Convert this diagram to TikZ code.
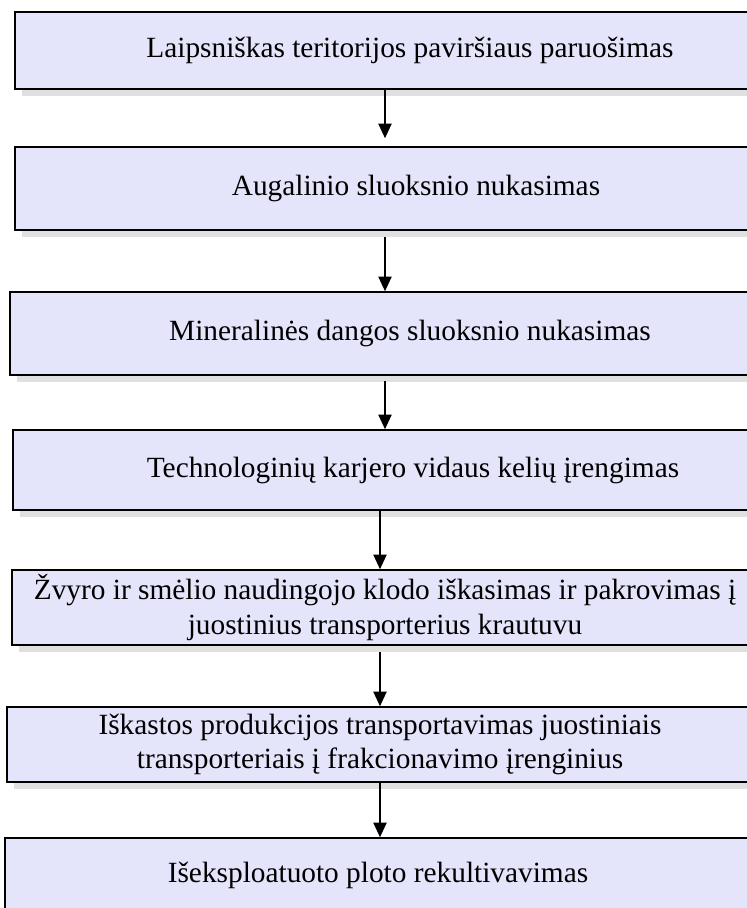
\documentclass[tikz,border=0pt]{standalone}
\usepackage{fontspec}
\setmainfont{Liberation Serif}
\usetikzlibrary{arrows.meta,shadows}
\definecolor{stagefill}{RGB}{228,228,250}
\begin{document}
\begin{tikzpicture}[x=0.75pt,y=-0.75pt]

\tikzset{stage/.style={draw=black, line width=1.2pt, fill=stagefill, inner sep=0pt, align=center, font=\fontsize{22}{26}\selectfont,
  drop shadow={shadow xshift=5.5pt, shadow yshift=-5.5pt, fill=black!12, opacity=1}}}
\tikzset{flow/.style={-{Triangle[width=10pt,length=11pt]}, line width=1pt}}

\useasboundingbox (0,0) rectangle (747,908);
\clip (0,0) rectangle (747,908);

\node[stage, minimum width=592.5pt, minimum height=57.75pt] (b1) at (410,50.5) {Laipsniškas teritorijos paviršiaus paruošimas};
\node[stage, minimum width=601.5pt, minimum height=62.25pt] (b2) at (416,188.5) {Augalinio sluoksnio nukasimas};
\node[stage, minimum width=600pt, minimum height=62.25pt] (b3) at (410,333.5) {Mineralinės dangos sluoksnio nukasimas};
\node[stage, minimum width=600pt, minimum height=60pt] (b4) at (413,470) {Technologinių karjero vidaus kelių įrengimas};
\node[stage, minimum width=559.5pt, minimum height=56.25pt] (b5) at (385,607.5) {Žvyro ir smėlio naudingojo klodo iškasimas ir pakrovimas į\\juostinius transporterius krautuvu};
\node[stage, minimum width=559.5pt, minimum height=56.25pt] (b6) at (380,744.5) {Iškastos produkcijos transportavimas juostiniais\\transporteriais į frakcionavimo įrenginius};
\node[stage, minimum width=559.5pt, minimum height=55.5pt] (b7) at (378,875) {Išeksploatuoto ploto rekultivavimas};

\coordinate (ax) at (385,0);
\coordinate (bx) at (380,0);

\draw[flow, shorten >=6pt] (b1.south -| ax) -- (b2.north -| ax);
\draw[flow, shorten <=5pt] (b2.south -| ax) -- (b3.north -| ax);
\draw[flow, shorten <=4pt] (b3.south -| ax) -- (b4.north -| ax);
\draw[flow] (b4.south -| bx) -- (b5.north -| bx);
\draw[flow, shorten <=5pt] (b5.south -| bx) -- (b6.north -| bx);
\draw[flow] (b6.south -| bx) -- (b7.north -| bx);

\end{tikzpicture}
\end{document}
